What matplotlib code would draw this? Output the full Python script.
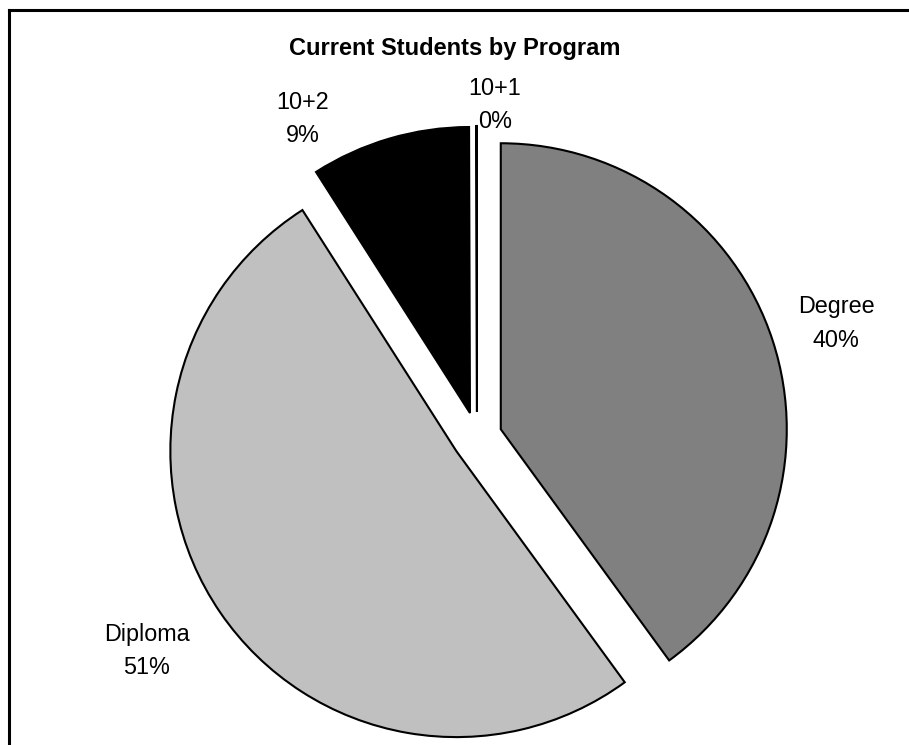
import matplotlib
matplotlib.use("Agg")
import matplotlib.pyplot as plt
from matplotlib.lines import Line2D

categories = ["Degree", "Diploma", "10+2", "10+1"]
values = [40, 51, 9, 0.05]
pct_labels = ["40%", "51%", "9%", "0%"]
colors = ["#808080", "#C0C0C0", "#000000", "#FFFFFF"]

W, H = 909, 745
fig = plt.figure(figsize=(W / 100, H / 100), dpi=100)
ax = fig.add_axes([0, 0, 1, 1])

# explode offset is in data units (pixels here)
ax.pie(values, colors=colors, startangle=90, counterclock=False,
       radius=286, center=(477, H - 437), explode=[25] * 4,
       wedgeprops=dict(edgecolor="black", linewidth=1.5, joinstyle="miter"),
       frame=True)
ax.set_xlim(0, W)
ax.set_ylim(0, H)
ax.set_aspect("equal")
ax.axis("off")

font = "Liberation Sans"
label_pos = {
    "Degree": (836, 313, 347),
    "Diploma": (147, 641, 674),
    "10+2": (303, 109, 142),
    "10+1": (495, 95, 128),
}
for cat, pct in zip(categories, pct_labels):
    x, y1, y2 = label_pos[cat]
    ax.text(x, H - y1, cat, ha="center", va="baseline", fontsize=16.8, family=font)
    ax.text(x, H - y2, pct, ha="center", va="baseline", fontsize=16.8, family=font)

ax.text(455, H - 55, "Current Students by Program", ha="center", va="baseline",
        fontsize=17, fontweight="bold", family=font)

fig.add_artist(Line2D([9 / W, 9 / W], [0, 1 - 10 / H], color="black", lw=2.2,
                      transform=fig.transFigure, solid_capstyle="projecting"))
fig.add_artist(Line2D([9 / W, 1], [1 - 10 / H, 1 - 10 / H], color="black", lw=2.2,
                      transform=fig.transFigure, solid_capstyle="projecting"))

fig.savefig("out.png", dpi=100, facecolor="white")
